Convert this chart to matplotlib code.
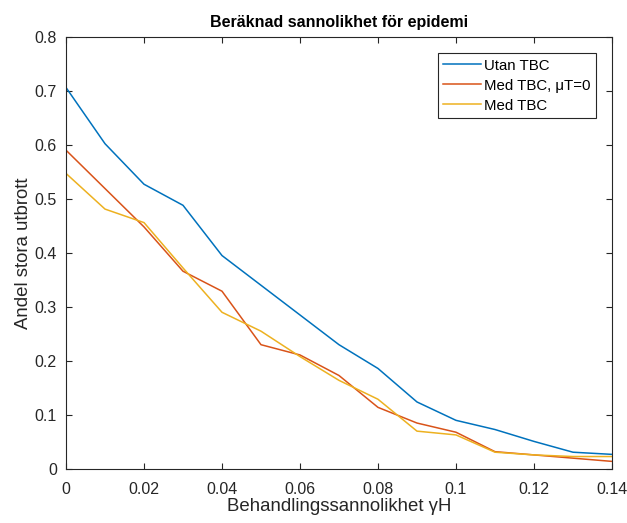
import matplotlib
matplotlib.use("Agg")
import matplotlib.pyplot as plt

# behandlingssannolikhet
gamma = [0.00, 0.01, 0.02, 0.03, 0.04, 0.05, 0.06, 0.07, 0.08, 0.09, 0.10, 0.11, 0.12, 0.13, 0.14]
utan_tbc = [0.707, 0.603, 0.528, 0.489, 0.396, 0.341, 0.286, 0.231, 0.187, 0.125, 0.091, 0.074, 0.052, 0.032, 0.028]
med_tbc_mu0 = [0.591, 0.520, 0.449, 0.367, 0.330, 0.231, 0.212, 0.174, 0.115, 0.086, 0.069, 0.033, 0.027, 0.021, 0.015]
med_tbc = [0.548, 0.482, 0.457, 0.373, 0.291, 0.256, 0.209, 0.165, 0.130, 0.071, 0.064, 0.032, 0.027, 0.024, 0.024]

plt.rcParams['font.family'] = ['Liberation Sans', 'DejaVu Sans']

fig = plt.figure(figsize=(6.27, 5.23), dpi=100)
ax = fig.add_axes([0.1053, 0.1023, 0.8707, 0.8264])

ax.plot(gamma, utan_tbc, color='#0072BD', lw=1.1, label='Utan TBC')
ax.plot(gamma, med_tbc_mu0, color='#D95319', lw=1.1, label='Med TBC, μT=0')
ax.plot(gamma, med_tbc, color='#EDB120', lw=1.1, label='Med TBC')

ax.set_xlim(0, 0.14)
ax.set_ylim(0, 0.8)
ax.set_xticks([0, 0.02, 0.04, 0.06, 0.08, 0.1, 0.12, 0.14])
ax.set_xticklabels(['0', '0.02', '0.04', '0.06', '0.08', '0.1', '0.12', '0.14'])
ax.set_yticks([0, 0.1, 0.2, 0.3, 0.4, 0.5, 0.6, 0.7, 0.8])
ax.set_yticklabels(['0', '0.1', '0.2', '0.3', '0.4', '0.5', '0.6', '0.7', '0.8'])
ax.tick_params(direction='in', top=True, right=True, length=4, labelsize=11.5, colors='#262626')
ax.tick_params(axis='x', pad=9)
ax.tick_params(axis='y', pad=6.5)
for s in ax.spines.values():
    s.set_color('#262626')

ax.set_title('Beräknad sannolikhet för epidemi', fontsize=11.5, fontweight='bold', pad=7.5)
ax.set_xlabel('Behandlingssannolikhet γH', fontsize=13.4, color='#262626', labelpad=1)
ax.set_ylabel('Andel stora utbrott', fontsize=13.4, color='#262626', labelpad=2)

leg = ax.legend(loc='upper right', bbox_to_anchor=(0.971, 0.963), borderaxespad=0, fontsize=10.8,
                fancybox=False, edgecolor='#262626', framealpha=1, handlelength=2.5,
                handletextpad=0.25, borderpad=0.35, labelspacing=0.4)
leg.get_frame().set_linewidth(0.8)

fig.savefig('out.png', dpi=100)
